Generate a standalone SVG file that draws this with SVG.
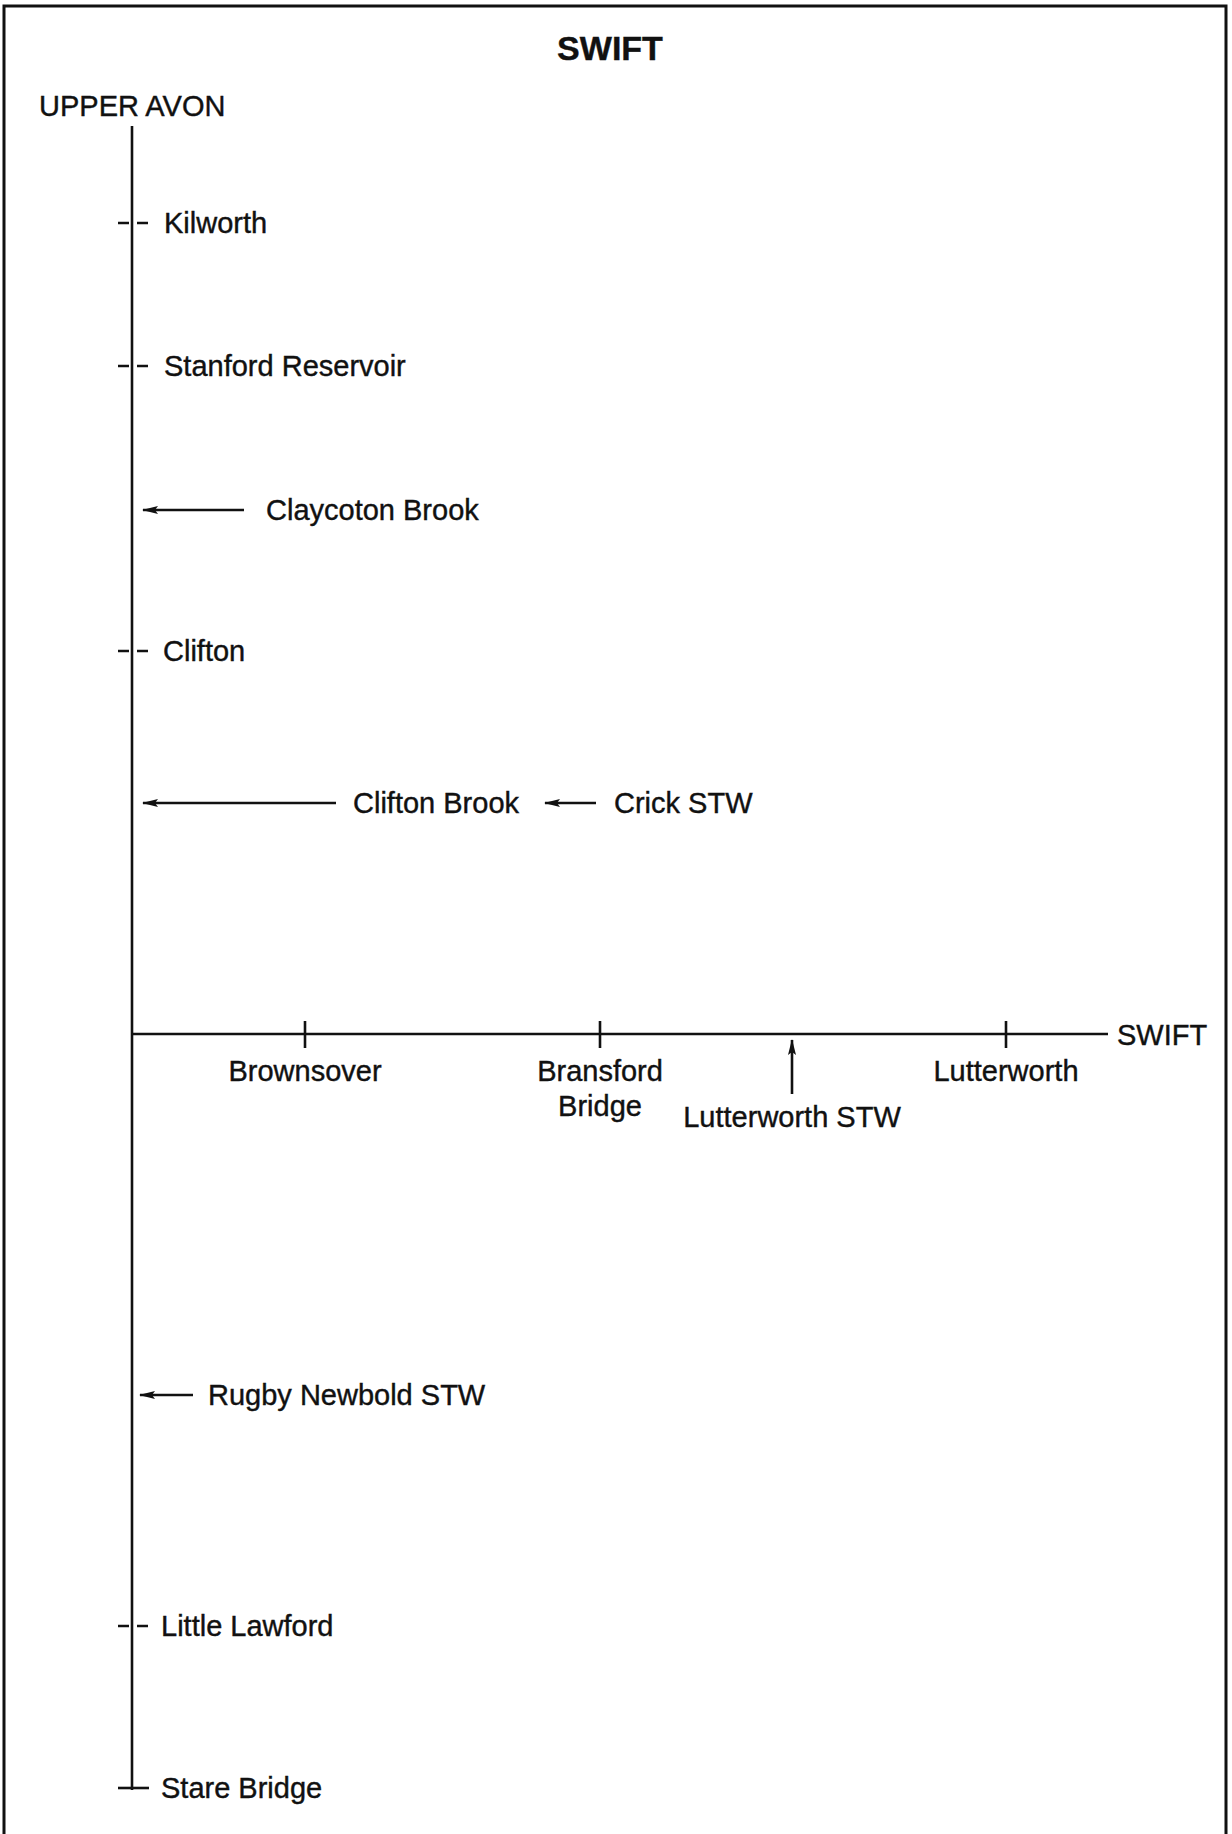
<svg xmlns="http://www.w3.org/2000/svg" width="1232" height="1834" viewBox="0 0 1232 1834">
<style>
text{font-family:"Liberation Sans",Arial,sans-serif;font-size:29px;fill:#111;stroke:#111;stroke-width:0.4}
.t{font-weight:bold;font-size:34px}
.m{text-anchor:middle}
.ln{stroke:#111;stroke-width:2.6;fill:none}
</style>
<defs>
<marker id="ah" markerWidth="16" markerHeight="10" refX="15" refY="5" orient="auto" markerUnits="userSpaceOnUse">
<path d="M0,1 L16,5 L0,9 L3,5 Z" fill="#111"/>
</marker>
</defs>
<rect x="0" y="0" width="1232" height="1834" fill="#fff"/>
<path d="M4,1840 V6 H1226 V1840" fill="none" stroke="#111" stroke-width="3"/>
<text class="t m" x="610" y="60">SWIFT</text>
<g id="rivers">
<text id="upper-avon" x="39" y="116">UPPER AVON</text>
<text id="swift-label" x="1117" y="1045">SWIFT</text>
</g>
<g id="connectors">
<line class="ln" x1="132" y1="126" x2="132" y2="1790"/>
<line class="ln" x1="132" y1="1034" x2="1108" y2="1034"/>
<path class="ln" d="M118,223 H129 M137,223 H148"/>
<path class="ln" d="M118,366 H129 M137,366 H148"/>
<path class="ln" d="M118,651 H129 M137,651 H148"/>
<path class="ln" d="M118,1626 H129 M137,1626 H148"/>
<path class="ln" d="M118,1788 H149"/>
<line class="ln" x1="244" y1="510" x2="143" y2="510" marker-end="url(#ah)"/>
<line class="ln" x1="336" y1="803" x2="143" y2="803" marker-end="url(#ah)"/>
<line class="ln" x1="596" y1="803" x2="545" y2="803" marker-end="url(#ah)"/>
<line class="ln" x1="193" y1="1395" x2="140" y2="1395" marker-end="url(#ah)"/>
<line class="ln" x1="305" y1="1021" x2="305" y2="1048"/>
<line class="ln" x1="600" y1="1021" x2="600" y2="1048"/>
<line class="ln" x1="1006" y1="1021" x2="1006" y2="1048"/>
<line class="ln" x1="792" y1="1094" x2="792" y2="1040" marker-end="url(#ah)"/>
</g>
<g id="kilworth"><text x="164" y="233">Kilworth</text></g>
<g id="stanford-reservoir"><text x="164" y="376">Stanford Reservoir</text></g>
<g id="claycoton-brook"><text x="266" y="520">Claycoton Brook</text></g>
<g id="clifton"><text x="163" y="661">Clifton</text></g>
<g id="clifton-brook"><text x="353" y="813">Clifton Brook</text></g>
<g id="crick-stw"><text x="614" y="813">Crick STW</text></g>
<g id="brownsover"><text class="m" x="305" y="1081">Brownsover</text></g>
<g id="bransford-bridge"><text class="m" x="600" y="1081">Bransford</text><text class="m" x="600" y="1116">Bridge</text></g>
<g id="lutterworth-stw"><text class="m" x="792" y="1127">Lutterworth STW</text></g>
<g id="lutterworth"><text class="m" x="1006" y="1081">Lutterworth</text></g>
<g id="rugby-newbold-stw"><text x="208" y="1405">Rugby Newbold STW</text></g>
<g id="little-lawford"><text x="161" y="1636">Little Lawford</text></g>
<g id="stare-bridge"><text x="161" y="1798">Stare Bridge</text></g>
</svg>
